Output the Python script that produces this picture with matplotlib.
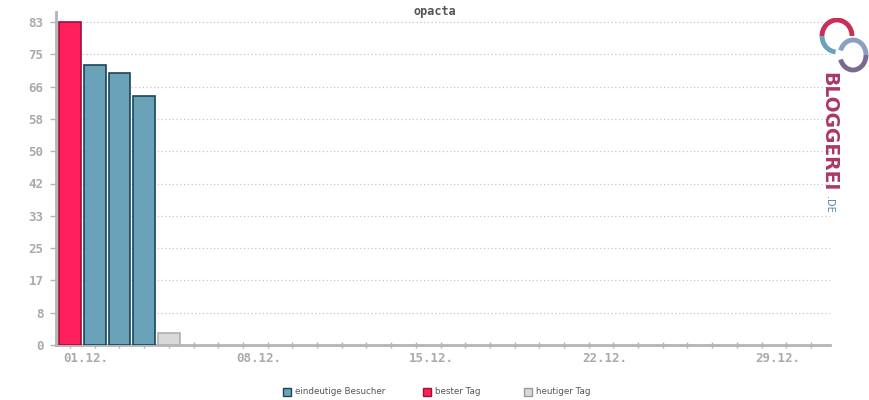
import matplotlib
matplotlib.use("Agg")
import matplotlib.pyplot as plt
from matplotlib.transforms import ScaledTranslation
from matplotlib.patches import Rectangle, Arc

title = "opacta"
days = [1, 2, 3, 4, 5]
visitors = [83, 72, 70, 64, 3]
kinds = ["best", "normal", "normal", "normal", "today"]
ytick_labels = ["0", "8", "17", "25", "33", "42", "50", "58", "66", "75", "83"]
xtick_days = [1, 8, 15, 22, 29]
xtick_labels = ["01.12.", "08.12.", "15.12.", "22.12.", "29.12."]
legend_labels = ["eindeutige Besucher", "bester Tag", "heutiger Tag"]

face = {"normal": "#6aa2b9", "best": "#ff1f5a", "today": "#d9d9d9"}
edge = {"normal": "#1b4558", "best": "#a0103a", "today": "#b0b0b0"}

fig = plt.figure(figsize=(8.7, 4.0), dpi=100)
ax = fig.add_axes([56/870, 55/400, (830-56)/870, (388-55)/400])

ymax = 83
for d, v, k in zip(days, visitors, kinds):
    ax.bar(d, v, width=0.88, color=face[k], edgecolor=edge[k], linewidth=1.2, zorder=3)

yt = [ymax * i / 10 for i in range(11)]
ax.set_yticks(yt)
ax.set_yticklabels(ytick_labels)
ax.set_ylim(0, ymax + 10 / 323 * ymax)
ax.set_xlim(0.43, 31.77)
ax.set_xticks(xtick_days)
ax.set_xticklabels(xtick_labels)
ax.set_xticks(range(1, 32), minor=True)

for y in yt[1:]:
    ax.axhline(y, color="#c8c8c8", linestyle=(0, (1, 2)), linewidth=0.9, zorder=1)

for s in ["top", "right"]:
    ax.spines[s].set_visible(False)
for s in ["left", "bottom"]:
    ax.spines[s].set_color("#b4b4b4")
    ax.spines[s].set_linewidth(2)

ax.tick_params(axis="y", length=4, width=1, color="#b4b4b4", labelcolor="#aaaaaa",
               labelsize=9, pad=5)
ax.tick_params(axis="x", which="both", length=4, width=1, color="#b4b4b4",
               labelcolor="#aaaaaa", labelsize=9, direction="inout", pad=3)
for lab in ax.get_yticklabels() + ax.get_xticklabels():
    lab.set_fontfamily("DejaVu Sans Mono")
    lab.set_fontweight("bold")
offset = ScaledTranslation(16/100, 0, fig.dpi_scale_trans)
for lab in ax.get_xticklabels():
    lab.set_transform(lab.get_transform() + offset)

fig.text(435/870, 1 - 12/400, title, ha="center", va="center", fontsize=8.5,
         fontweight="bold", color="#555555", family="DejaVu Sans Mono")

# legend
leg_items = [(283, "normal", legend_labels[0]), (423, "best", legend_labels[1]),
             (524, "today", legend_labels[2])]
for x, k, t in leg_items:
    fig.patches.append(Rectangle((x/870, 1 - 396/400), 8/870, 8/400,
                                 transform=fig.transFigure, facecolor=face[k],
                                 edgecolor=edge[k] if k != "today" else "#999999",
                                 linewidth=1))
    fig.text((x + 12)/870, 1 - 391.5/400, t, ha="left", va="center", fontsize=6.3,
             color="#555555")

# logo
fig.text(829/870, 1 - 72/400, "BLOGGEREI", rotation=270, ha="center", va="top",
         fontsize=13.5, fontweight="bold", color="#a8386a", family="DejaVu Sans")
fig.text(829/870, 1 - 196/400, ".DE", rotation=270, ha="center", va="top",
         fontsize=7, color="#5a86a8", family="DejaVu Sans")
lax = fig.add_axes([815/870, 1 - 74/400, 54/870, 56/400])
lax.set_xlim(0, 54); lax.set_ylim(0, 56); lax.axis("off")
lax.add_patch(Arc((22, 38), 30, 32, theta1=0, theta2=180, color="#c8305a", lw=3.5))
lax.add_patch(Arc((22, 38), 30, 32, theta1=180, theta2=265, color="#6aa2b9", lw=3.5))
lax.add_patch(Arc((38, 19), 26, 30, theta1=200, theta2=360, color="#7a6a90", lw=3.5))
lax.add_patch(Arc((38, 19), 26, 30, theta1=0, theta2=160, color="#8aa0c0", lw=3.5))

fig.savefig("out.png", dpi=100)
